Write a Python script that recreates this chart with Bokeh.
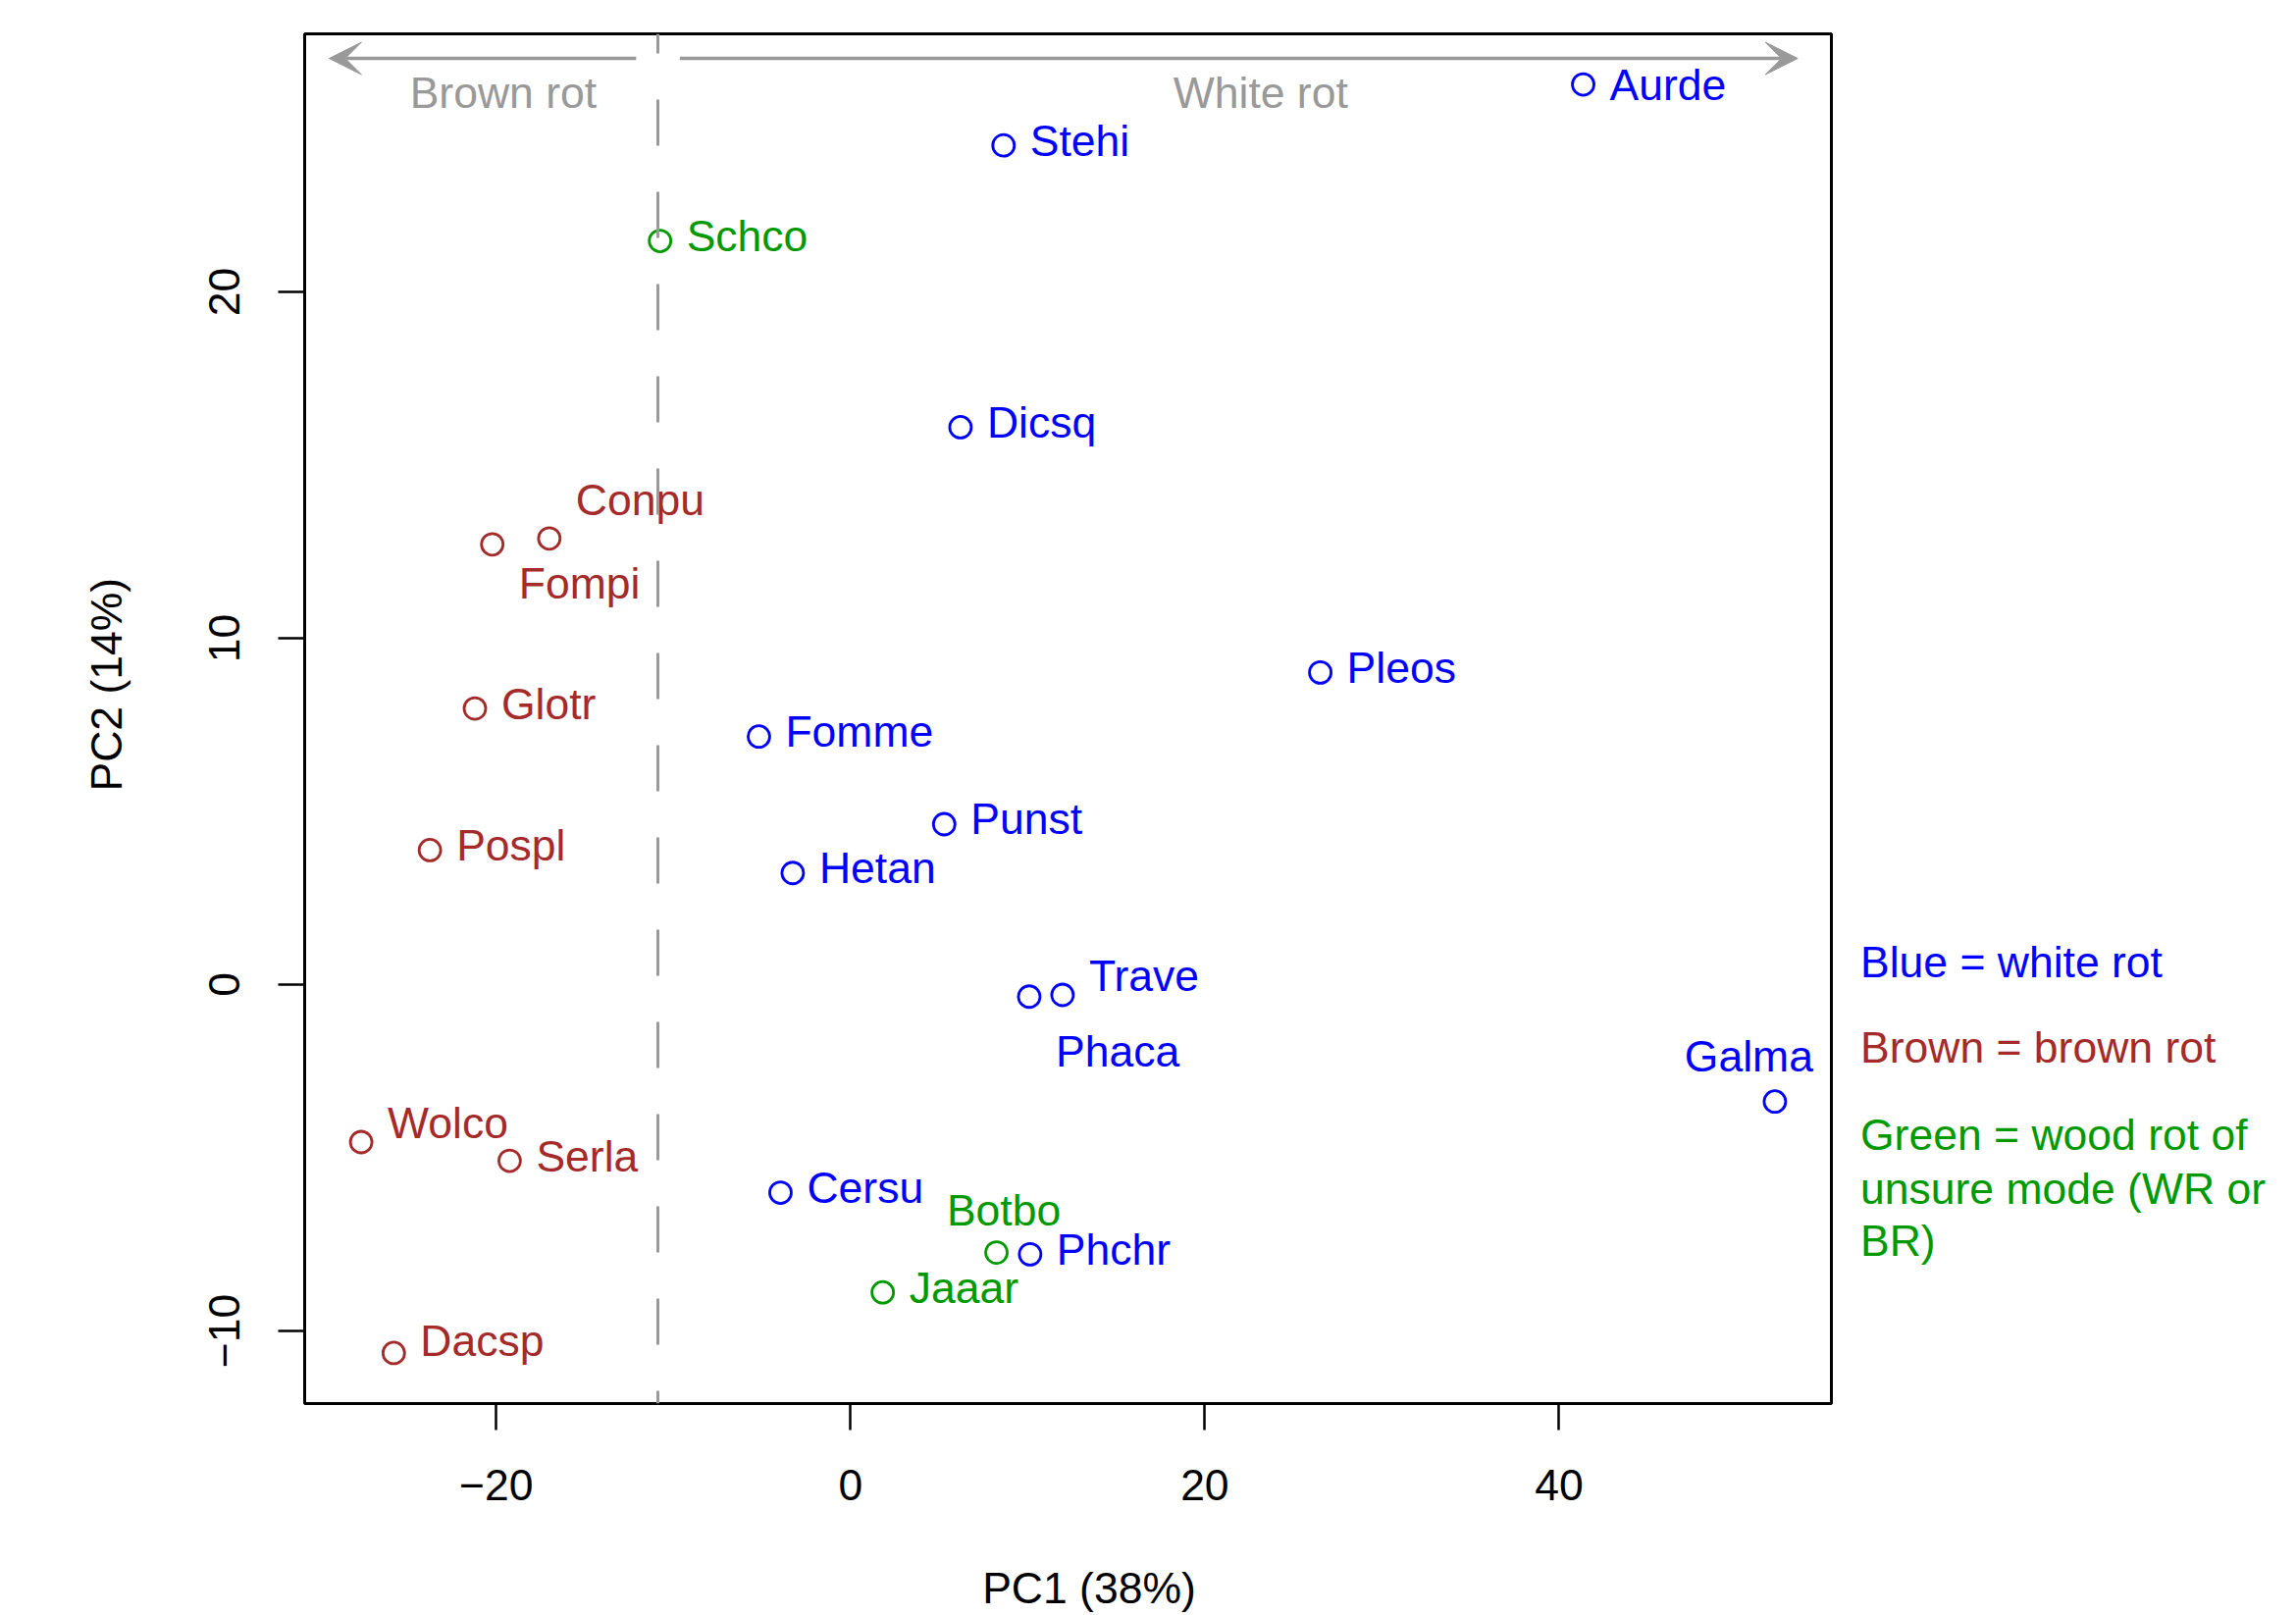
from bokeh.plotting import figure
from bokeh.layouts import row, column
from bokeh.models import Span, Arrow, VeeHead, ColumnDataSource, FixedTicker, Range1d, Title
from bokeh.core.properties import value
from bokeh.embed import file_html
from bokeh.resources import INLINE

# ---------------- data ----------------
species = ["Aurde", "Stehi", "Schco", "Dicsq", "Conpu", "Fompi", "Glotr", "Pleos",
           "Fomme", "Punst", "Hetan", "Pospl", "Trave", "Phaca", "Galma", "Wolco",
           "Serla", "Cersu", "Botbo", "Phchr", "Jaaar", "Dacsp"]
pc1 = [41.36, 8.64, -10.75, 6.21, -17.00, -20.22, -21.20, 26.52,
       -5.17, 5.29, -3.26, -23.74, 11.97, 10.09, 52.18, -27.62,
       -19.24, -3.95, 8.24, 10.14, 1.82, -25.78]
pc2 = [25.99, 24.23, 21.47, 16.09, 12.88, 12.71, 7.97, 9.01,
       7.16, 4.63, 3.22, 3.88, -0.30, -0.35, -3.38, -4.55,
       -5.09, -6.01, -7.74, -7.79, -8.89, -10.64]
rot_mode = ["WR", "WR", "unsure", "WR", "BR", "BR", "BR", "WR",
            "WR", "WR", "WR", "BR", "WR", "WR", "WR", "BR",
            "BR", "WR", "unsure", "WR", "unsure", "BR"]

x_ticks = [-20, 0, 20, 40]
y_ticks = [-10, 0, 10, 20]
x_title = "PC1 (38%)"
y_title = "PC2 (14%)"
legend_lines = ["Blue = white rot", "Brown = brown rot",
                "Green = wood rot of", "unsure mode (WR or", "BR)"]
legend_modes = ["WR", "BR", "unsure", "unsure", "unsure"]
legend_y = [0.646, -1.804, -4.326, -5.892, -7.399]

# ---------------- styles ----------------
FONT = "Liberation Sans"
FS = "44.5px"
GRAY = "#999999"
colors = {"WR": "#0000FF", "BR": "#A52A2A", "unsure": "#009900"}

# label placement in pixels (dx to text start, dy of text centre), default: right of point
STD = (27, -5, "left")
label_place = {
    "Aurde": (27, 0, "left"),
    "Conpu": (27, -39, "left"),
    "Fompi": (27, 40, "left"),
    "Trave": (27, -19, "left"),
    "Phaca": (27, 56, "left"),
    "Wolco": (27, -20, "left"),
    "Dacsp": (27, -12.5, "left"),
    "Galma": (-26.5, -46.5, "center"),
    "Botbo": (7.5, -43, "center"),
}

# ---------------- figure ----------------
x_lo, x_hi = -30.81, 55.37
y_lo, y_hi = -12.10, 27.45
TOP, BOTTOM, LEFT = 34, 160, 310
FRAME_W, FRAME_H = 1556, 1396
RIGHT = 10
LEG_W = 450
STRIP_H = 56

p = figure(output_backend="svg", toolbar_location=None,
           frame_width=FRAME_W, frame_height=FRAME_H,
           x_range=Range1d(x_lo, x_hi), y_range=Range1d(y_lo, y_hi),
           min_border_left=LEFT, min_border_top=TOP, min_border_right=RIGHT,
           min_border_bottom=BOTTOM)
p.background_fill_color = "white"
p.border_fill_color = "white"
p.grid.visible = False
p.outline_line_color = "black"
p.outline_line_width = 3

for ax, ticks in ((p.xaxis, x_ticks), (p.yaxis, y_ticks)):
    ax.ticker = FixedTicker(ticks=ticks)
    ax.axis_line_color = None
    ax.major_tick_in = 0
    ax.major_tick_out = 27
    ax.major_tick_line_width = 2.5
    ax.major_tick_line_color = "black"
    ax.minor_tick_line_color = None
    ax.major_label_text_font = FONT
    ax.major_label_text_font_size = FS
    ax.major_label_text_color = "black"
    ax.major_label_overrides = {t: (str(t).replace("-", "\u2212")) for t in ticks}
p.xaxis.major_label_standoff = 40
p.yaxis.major_label_standoff = 39
p.yaxis.major_label_orientation = "vertical"

# y axis title
p.add_layout(Title(text=y_title, align="left", offset=624, standoff=154,
                   vertical_align="middle",
                   text_font=FONT, text_font_size=FS, text_font_style="normal",
                   text_color="black"), "left")

# dashed separator and arrows
p.add_layout(Span(location=-10.87, dimension="height", line_color=GRAY,
                  line_width=3, line_dash="47 47", line_dash_offset=27))
arrow_y = 26.74
p.add_layout(Arrow(end=VeeHead(size=33, fill_color=GRAY, line_color=GRAY),
                   x_start=-12.1, y_start=arrow_y, x_end=-29.43, y_end=arrow_y,
                   line_color=GRAY, line_width=3.5))
p.add_layout(Arrow(end=VeeHead(size=33, fill_color=GRAY, line_color=GRAY),
                   x_start=-9.63, y_start=arrow_y, x_end=53.47, y_end=arrow_y,
                   line_color=GRAY, line_width=3.5))
p.text(x=[-19.6, 23.15], y=[25.75, 25.75], text=["Brown rot", "White rot"],
       text_color=GRAY, text_font=value(FONT), text_font_size=FS,
       text_align="center", text_baseline="middle")

# points
src = ColumnDataSource(dict(x=pc1, y=pc2, name=species,
                            color=[colors[m] for m in rot_mode]))
p.scatter("x", "y", source=src, marker="circle", size=22, fill_color=None,
          line_color="color", line_width=2.8)

# labels
for align in ("left", "center"):
    d = dict(x=[], y=[], name=[], color=[], dx=[], dy=[])
    for s, xv, yv, m in zip(species, pc1, pc2, rot_mode):
        dx, dy, al = label_place.get(s, STD)
        if al != align:
            continue
        d["x"].append(xv); d["y"].append(yv); d["name"].append(s)
        d["color"].append(colors[m]); d["dx"].append(dx); d["dy"].append(dy)
    p.text("x", "y", text="name", source=ColumnDataSource(d), x_offset="dx", y_offset="dy",
           text_color="color", text_font=value(FONT), text_font_size=FS,
           text_align=align, text_baseline="middle")

# legend panel on the right, sharing the y scale
p2 = figure(output_backend="svg", toolbar_location=None,
            frame_width=LEG_W, frame_height=FRAME_H,
            x_range=Range1d(0, LEG_W), y_range=p.y_range,
            x_axis_location=None, y_axis_location=None,
            min_border_left=0, min_border_right=0,
            min_border_top=TOP, min_border_bottom=BOTTOM)
p2.grid.visible = False
p2.outline_line_color = None
p2.background_fill_color = "white"
p2.border_fill_color = "white"
p2.text(x=[19.5] * len(legend_lines), y=legend_y, text=legend_lines,
        text_color=[colors[m] for m in legend_modes], text_font=value(FONT),
        text_font_size=FS, text_align="left", text_baseline="middle")

# x axis title strip below, in pixel units aligned with the main figure
strip_w = LEFT + FRAME_W + RIGHT + LEG_W
p3 = figure(output_backend="svg", toolbar_location=None,
            width=strip_w, height=STRIP_H,
            x_range=Range1d(0, strip_w), y_range=Range1d(0, STRIP_H),
            x_axis_location=None, y_axis_location=None, min_border=0)
p3.grid.visible = False
p3.outline_line_color = None
p3.background_fill_color = "white"
p3.border_fill_color = "white"
p3.text(x=[1109.5], y=[28.3], text=[x_title], text_color="black",
        text_font=value(FONT), text_font_size=FS,
        text_align="center", text_baseline="middle")

layout = column(row(p, p2), p3)
open("out.html", "w").write(file_html(layout, INLINE))
